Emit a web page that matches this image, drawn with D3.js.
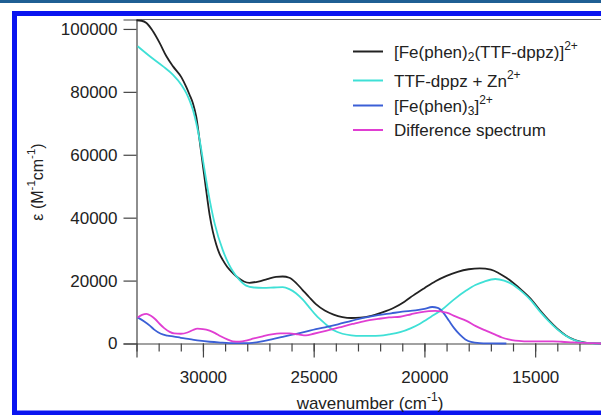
<!DOCTYPE html>
<html lang="en">
<head>
    <script src="https://d3js.org/d3.v7.min.js"></script>
</head>
<style>
    body { margin: 0; background: #fff; }
    text { font-family: "Liberation Sans", Arial, Helvetica, sans-serif; fill: #222; }
</style>
<body>
<script>
    // canvas size
    const w = 601
    const h = 415

    // spectra as [wavenumber (cm-1), epsilon (M-1 cm-1)]
    const complexSpectrum = [[33000,102700],[32780,102600],[32550,101900],[32250,99200],[31950,95500],[31650,91300],[31350,88100],[30970,84600],[30750,81500],[30600,79000],[30450,76300],[30300,72000],[30150,64500],[30000,56500],[29850,48500],[29700,41000],[29550,35500],[29400,31500],[29250,28500],[29100,26500],[28900,24300],[28650,22400],[28400,20800],[28150,19700],[27900,19300],[27500,19700],[27100,20500],[26700,21200],[26400,21300],[26100,20900],[25800,19300],[25500,17000],[25200,14700],[24900,12500],[24500,10500],[24100,9200],[23700,8400],[23300,8100],[22900,8200],[22400,8800],[21900,9900],[21400,11300],[20900,13300],[20500,15300],[20000,17600],[19500,19800],[19000,21500],[18500,22800],[18000,23600],[17500,23900],[17000,23500],[16600,22200],[16300,20900],[16000,19300],[15600,16900],[15200,14200],[14800,10700],[14400,7500],[14000,4700],[13600,2500],[13200,1100],[12800,350],[12400,100],[12000,0]]

    const ligandZnSpectrum = [[32950,94500],[32400,91300],[31800,88100],[31350,85400],[30970,82200],[30750,79600],[30600,77200],[30450,74200],[30300,70000],[30150,64800],[30000,58300],[29775,48700],[29470,38100],[29100,29600],[28850,25500],[28650,23000],[28350,20200],[28050,18400],[27700,17800],[27300,17700],[26800,17800],[26400,17900],[26100,17300],[25800,16000],[25500,14000],[25200,11500],[24900,9000],[24500,6400],[24100,4200],[23700,3100],[23300,2600],[22900,2400],[22400,2400],[22000,2500],[21600,2900],[21100,3600],[20600,4900],[20200,6300],[19700,8500],[19200,10800],[18700,13800],[18100,16900],[17700,18600],[17300,19700],[16800,20500],[16400,20000],[16000,18700],[15600,16500],[15200,13800],[14800,10300],[14400,7200],[14000,4500],[13600,2400],[13200,1000],[12800,300],[12400,80],[12000,0]]

    const trisPhenSpectrum = [[32950,8300],[32650,7000],[32400,5700],[32200,4400],[31900,3100],[31600,2500],[31300,2200],[31000,1800],[30600,1400],[30150,900],[29700,550],[29200,300],[28800,150],[28300,100],[27900,150],[27400,600],[26900,1300],[26400,2100],[25900,2900],[25400,3700],[24900,4600],[24400,5300],[23900,6100],[23300,7200],[22700,8200],[22100,9000],[21500,9600],[21000,10100],[20400,10500],[20000,11000],[19650,11600],[19400,11300],[19150,9800],[18900,7300],[18650,4800],[18400,2800],[18150,1300],[17900,500],[17500,150],[17000,50],[16300,0]]

    const differenceSpectrum = [[32950,8300],[32750,9100],[32550,9400],[32350,8800],[32150,7700],[31950,6200],[31750,4900],[31500,3700],[31300,3200],[31000,3100],[30700,3500],[30450,4300],[30250,4700],[30000,4600],[29700,4100],[29450,3300],[29200,2300],[28900,1300],[28650,700],[28350,600],[28050,900],[27700,1600],[27300,2300],[26900,2900],[26500,3200],[26100,3200],[25700,2900],[25350,2600],[25000,3100],[24450,4000],[23850,5100],[23250,6200],[22650,7200],[22100,7800],[21600,8300],[21100,8500],[20600,9300],[20200,9900],[19800,10300],[19500,10400],[19200,10100],[19000,9800],[18600,8600],[18100,7200],[17700,5600],[17200,4000],[16800,2800],[16500,1900],[16200,1300],[15900,900],[15500,700],[15100,650],[14600,650],[14200,650],[13800,550],[13300,350],[12800,200],[12400,100],[12000,0]]

    // ticks
    const yTicks = [0, 20000, 40000, 60000, 80000, 100000]
    const xMajorTicks = [30000, 25000, 20000, 15000]
    const xMinorTicks = d3.range(33000, 11999, -1000)

    // legend entries: text pieces, "sub"/"sup" marks a shifted piece
    const seriesColors = ["#222222", "#3fe0d6", "#3b5fd6", "#e03ed2"]
    const seriesData = [complexSpectrum, ligandZnSpectrum, trisPhenSpectrum, differenceSpectrum]
    const legendLabels = [
        [["[Fe(phen)"], ["2", "sub"], ["(TTF-dppz)]"], ["2+", "sup"]],
        [["TTF-dppz + Zn"], ["2+", "sup"]],
        [["[Fe(phen)"], ["3", "sub"], ["]"], ["2+", "sup"]],
        [["Difference spectrum"]]
    ]

    let svg = d3.select("body")
        .append("svg")
        .attr("width", w)
        .attr("height", h)

    // page decoration: dark strip and blue frame
    svg.append("rect").attr("x", 0).attr("y", 0).attr("width", w).attr("height", 3).attr("fill", "#1f5f94")
    svg.append("rect")
        .attr("x", 14.5).attr("y", 13.5)
        .attr("width", w + 20).attr("height", 399.5)
        .attr("fill", "none").attr("stroke", "#0a14f0").attr("stroke-width", 5)

    // plot area
    const plotLeft = 136.5, plotTop = 19.5, plotBottom = 343.5, plotRight = 601.6

    let xScale = d3.scaleLinear().domain([33000, 12000]).range([plotLeft, plotRight])
    let yScale = d3.scaleLinear().domain([0, 103000]).range([plotBottom, plotTop])

    // frame top line
    svg.append("line")
        .attr("x1", plotLeft).attr("x2", w)
        .attr("y1", plotTop).attr("y2", plotTop)
        .attr("stroke", "#666").attr("stroke-width", 1.2)

    // minor x ticks first, then the labelled axis
    svg.append("g")
        .attr("transform", "translate(0," + plotBottom + ")")
        .call(d3.axisBottom(xScale).tickValues(xMinorTicks).tickSize(8).tickFormat(""))
        .call(g => g.select(".domain").remove())
        .call(g => g.selectAll("line").attr("stroke", "#444").attr("stroke-width", 1.2))

    svg.append("g")
        .attr("transform", "translate(0," + plotBottom + ")")
        .call(d3.axisBottom(xScale).tickValues(xMajorTicks).tickSize(14).tickPadding(13).tickFormat(d3.format("d")))
        .call(g => g.select(".domain").attr("stroke", "#444").attr("stroke-width", 1.2))
        .call(g => g.selectAll("line").attr("stroke", "#444").attr("stroke-width", 1.2))
        .call(g => g.selectAll("text").attr("font-size", "17px").attr("fill", "#222"))

    svg.append("g")
        .attr("transform", "translate(" + plotLeft + ",0)")
        .call(d3.axisLeft(yScale).tickValues(yTicks).tickSize(13).tickPadding(6).tickFormat(d3.format("d")))
        .call(g => g.select(".domain").attr("stroke", "#444").attr("stroke-width", 1.2))
        .call(g => g.selectAll("line").attr("stroke", "#444").attr("stroke-width", 1.2))
        .call(g => g.selectAll("text").attr("font-size", "17px").attr("fill", "#222"))

    // spectra
    let line = d3.line()
        .x(d => xScale(d[0]))
        .y(d => yScale(d[1]))
        .curve(d3.curveMonotoneX)

    svg.selectAll("path.spectrum")
        .data(seriesData)
        .enter()
        .append("path")
        .attr("class", "spectrum")
        .attr("d", line)
        .attr("fill", "none")
        .attr("stroke", (d, i) => seriesColors[i])
        .attr("stroke-width", 1.8)

    // helper for text with sub/superscripts
    function richText(sel, pieces, big, small) {
        pieces.forEach(p => {
            let t = sel.append("tspan").text(p[0])
            if (p[1] == "sup") t.attr("font-size", small).attr("baseline-shift", "70%")
            else if (p[1] == "sub") t.attr("font-size", small).attr("baseline-shift", "-25%")
            else t.attr("font-size", big)
        })
    }

    // legend
    const legendY = [51.5, 80.5, 105.5, 130]
    legendLabels.forEach((lab, i) => {
        svg.append("line")
            .attr("x1", 353).attr("x2", 383)
            .attr("y1", legendY[i]).attr("y2", legendY[i])
            .attr("stroke", seriesColors[i]).attr("stroke-width", 2)
        let t = svg.append("text").attr("x", 394).attr("y", legendY[i] + 6)
        richText(t, lab, "17px", "12px")
    })

    // axis titles
    let xt = svg.append("text").attr("x", 370).attr("y", 409).attr("text-anchor", "middle")
    richText(xt, [["wavenumber (cm"], ["-1", "sup"], [")"]], "17px", "12px")

    let yt = svg.append("text")
        .attr("transform", "translate(43,182) rotate(-90)")
        .attr("text-anchor", "middle")
    richText(yt, [["ε (M"], ["-1", "sup"], ["cm"], ["-1", "sup"], [")"]], "16px", "11.5px")
</script>
</body>
</html>
